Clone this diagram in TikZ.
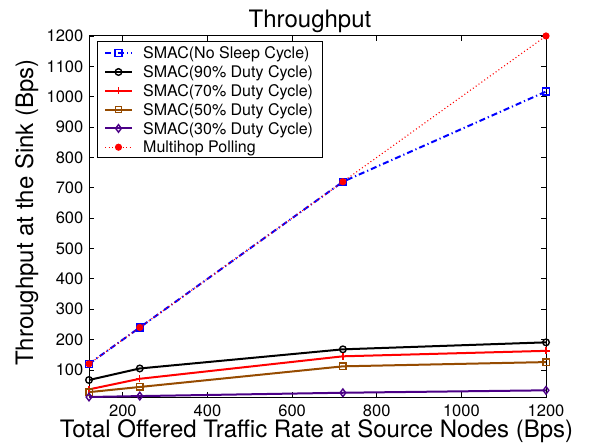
\documentclass[tikz,border=0pt]{standalone}
\usepackage{fontspec}
\setmainfont{TeX Gyre Heros}
\usetikzlibrary{plotmarks}
\definecolor{brownc}{RGB}{150,75,0}
\definecolor{purplec}{RGB}{75,0,135}
\begin{document}
\begin{tikzpicture}[x=1pt,y=1pt,
  ticklab/.style={font=\fontsize{16.5}{18}\selectfont, inner sep=0pt},
  biglab/.style={font=\fontsize{24}{28}\selectfont, inner sep=0pt},
  leglab/.style={font=\fontsize{16}{18}\selectfont, inner sep=0pt, anchor=base west},
  tickline/.style={line width=0.8pt},
  nosleep/.style={color=blue, line width=2pt, dash pattern=on 6pt off 3pt on 1.2pt off 3pt,
    mark=square, mark size=3.4pt, mark options={solid, line width=1.4pt}},
  dninety/.style={color=black, line width=2pt, mark=o, mark size=3.3pt, mark options={solid, line width=1.4pt}},
  dseventy/.style={color=red, line width=2pt, mark=+, mark size=3.5pt, mark options={solid, line width=1.4pt}},
  dfifty/.style={color=brownc, line width=2pt, mark=square, mark size=3.2pt, mark options={solid, line width=1.4pt}},
  dthirty/.style={color=purplec, line width=2pt, mark=diamond, mark size=3.8pt, mark options={solid, line width=1.4pt}},
  mpoll/.style={color=red, line width=1.1pt, dash pattern=on 1pt off 2.5pt, mark=*, mark size=3pt, mark options={solid}}
]
\useasboundingbox (0,0) rectangle (593,444);
\fill[white] (0,0) rectangle (593,444);

\begin{scope}[shift={(38.22,43.66)}, x=0.42315pt, y=0.30364pt]
  % axis box
  \draw[line width=1pt] (120,11) rectangle (1200,1200);
  \foreach \v in {200,400,...,1200} {
    \draw[tickline] (\v,11) -- ++(0pt,5pt);
    \draw[tickline] (\v,1200) -- ++(0pt,-5pt);
    \node[ticklab, anchor=base, yshift=-19.2pt] at (\v,11) {\v};
  }
  \foreach \v in {100,200,...,1200} {
    \draw[tickline] (120,\v) -- ++(5pt,0pt);
    \draw[tickline] (1200,\v) -- ++(-5pt,0pt);
    \node[ticklab, anchor=east, xshift=-5.5pt] at (120,\v) {\v};
  }
  % data
  \draw[nosleep] plot coordinates {(120,120) (240,240) (720,720) (1200,1017)};
  \draw[dninety] plot coordinates {(120,67) (240,105) (720,168) (1200,191)};
  \draw[dseventy] plot coordinates {(120,36) (240,71) (720,145) (1200,163)};
  \draw[dfifty] plot coordinates {(120,27) (240,44) (720,112) (1200,126)};
  \draw[dthirty] plot coordinates {(120,11) (240,14) (720,25) (1200,33)};
  \draw[mpoll] plot coordinates {(120,120) (240,240) (720,720) (1200,1200)};
\end{scope}

% labels
\node[biglab, anchor=base] (title) at (310,416.7) {Throughput};
\node[biglab, anchor=base, text height=17pt, text depth=5pt] (xlab) at (316.5,6.6) {Total Offered Traffic Rate at Source Nodes (Bps)};
\node[biglab, anchor=base, rotate=90] (ylab) at (33,231.5) {Throughput at the Sink (Bps)};

% legend
\draw[line width=1pt, fill=white] (97,286) rectangle (322,402);
\draw[nosleep, mark indices={2}] plot coordinates {(105,390.8) (118.5,390.8) (132,390.8)};
\node[leglab] (l1) at (143,385.0) {SMAC(No Sleep Cycle)};
\draw[dninety, mark indices={2}] plot coordinates {(105,372) (118.5,372) (132,372)};
\node[leglab] (l2) at (143,366.2) {SMAC(90\% Duty Cycle)};
\draw[dseventy, mark indices={2}] plot coordinates {(105,353.2) (118.5,353.2) (132,353.2)};
\node[leglab] (l3) at (143,347.4) {SMAC(70\% Duty Cycle)};
\draw[dfifty, mark indices={2}] plot coordinates {(105,334.4) (118.5,334.4) (132,334.4)};
\node[leglab] (l4) at (143,328.6) {SMAC(50\% Duty Cycle)};
\draw[dthirty, mark indices={2}] plot coordinates {(105,315.6) (118.5,315.6) (132,315.6)};
\node[leglab] (l5) at (143,309.8) {SMAC(30\% Duty Cycle)};
\draw[mpoll, mark indices={2}] plot coordinates {(105,296.8) (118.5,296.8) (132,296.8)};
\node[leglab] (l6) at (143,291.0) {Multihop Polling};
\end{tikzpicture}
\end{document}
